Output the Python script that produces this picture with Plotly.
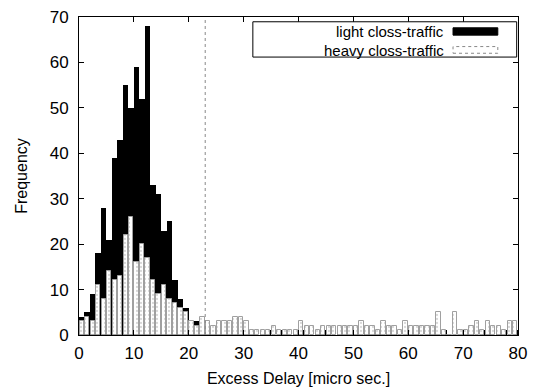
import plotly.graph_objects as go

# bin centers (1 micro-second wide bins from 0 to 80)
bin_left = list(range(0, 80))
bin_centers = [b + 0.5 for b in bin_left]

light = [4, 5, 9, 18, 28, 21, 39, 43, 55, 50,
         59, 52, 68, 33, 31, 23, 25, 12, 8, 6,
         3, 3, 1, 2, 1, 1, 1, 1, 1, 1,
         1, 1, 0, 1, 1, 0, 1, 1, 0, 1,
         1, 1, 0, 1, 1, 1, 0, 1, 1, 1,
         1, 0, 1, 1, 1, 0, 1, 1, 0, 1,
         1, 1, 0, 1, 1, 0, 1, 0, 0, 1,
         1, 1, 0, 1, 1, 0, 1, 1, 0, 1]

heavy = [3, 4, 3, 11, 8, 14, 12, 13, 22, 26,
         16, 20, 17, 12, 9, 11, 8, 7, 6, 5,
         3, 2, 4, 3, 2, 3, 3, 3, 4, 4,
         3, 1, 1, 1, 1, 2, 1, 1, 1, 1,
         3, 2, 2, 1, 2, 2, 2, 2, 2, 2,
         2, 3, 2, 2, 1, 3, 2, 2, 1, 3,
         2, 2, 2, 2, 2, 5, 1, 0, 5, 1,
         1, 2, 3, 1, 3, 2, 2, 1, 3, 3]

threshold = 23
x_ticks = [0, 10, 20, 30, 40, 50, 60, 70, 80]
y_ticks = [0, 10, 20, 30, 40, 50, 60, 70]
series_names = ["light closs-traffic", "heavy closs-traffic"]

FONT = "Liberation Sans, Arial, Helvetica, sans-serif"

fig = go.Figure()
fig.add_trace(go.Bar(x=bin_centers, y=light, width=1.0, name=series_names[0],
                     marker=dict(color="black", line=dict(width=0)),
                     showlegend=False))
fig.add_trace(go.Bar(x=bin_centers, y=heavy, width=0.78, name=series_names[1],
                     marker=dict(color="white", line=dict(color="#a0a0a0", width=1),
                                 pattern=dict(shape=".", fgcolor="#b0b0b0", bgcolor="white",
                                              size=4, solidity=0.25)),
                     showlegend=False))

fig.add_vline(x=threshold, line=dict(color="#888888", width=1, dash="dot"))

# custom legend (text on the left, swatch on the right, framed box)
fig.add_shape(type="rect", xref="paper", yref="paper", x0=0.396, x1=0.997,
              y0=0.874, y1=0.985, line=dict(color="black", width=1),
              fillcolor="white", layer="above")
fig.add_shape(type="rect", xref="paper", yref="paper", x0=0.852, x1=0.954,
              y0=0.943, y1=0.966, line=dict(color="black", width=1),
              fillcolor="black", layer="above")
fig.add_shape(type="rect", xref="paper", yref="paper", x0=0.852, x1=0.954,
              y0=0.886, y1=0.907, line=dict(color="#888888", width=1, dash="dot"),
              fillcolor="white", layer="above")
for name, yc in zip(series_names, [0.954, 0.896]):
    fig.add_annotation(text=name, xref="paper", yref="paper", x=0.836, y=yc,
                       xanchor="right", yanchor="middle", showarrow=False,
                       font=dict(family=FONT, size=15, color="black"))

fig.update_layout(
    width=539, height=387,
    margin=dict(l=79, r=21, t=17, b=52, autoexpand=False),
    barmode="overlay", bargap=0,
    plot_bgcolor="white", paper_bgcolor="white",
    font=dict(family=FONT, size=16, color="black"),
)
fig.update_xaxes(range=[0, 80], tickvals=x_ticks, ticktext=[str(v) for v in x_ticks],
                 ticks="inside", ticklen=5, tickcolor="black", showline=True,
                 linecolor="black", linewidth=1, mirror="ticks", showgrid=False,
                 zeroline=False, tickfont=dict(size=17), ticklabelstandoff=3,
                 automargin=False,
                 title=dict(text="Excess Delay [micro sec.]", font=dict(size=16), standoff=10))
fig.update_yaxes(range=[0, 70], tickvals=y_ticks, ticktext=[str(v) for v in y_ticks],
                 ticks="inside", ticklen=5, tickcolor="black", showline=True,
                 linecolor="black", linewidth=1, mirror="ticks", showgrid=False,
                 zeroline=False, tickfont=dict(size=17), ticklabelstandoff=6,
                 automargin=False,
                 title=dict(text="Frequency", font=dict(size=16), standoff=18))

fig.write_html("out.html")
